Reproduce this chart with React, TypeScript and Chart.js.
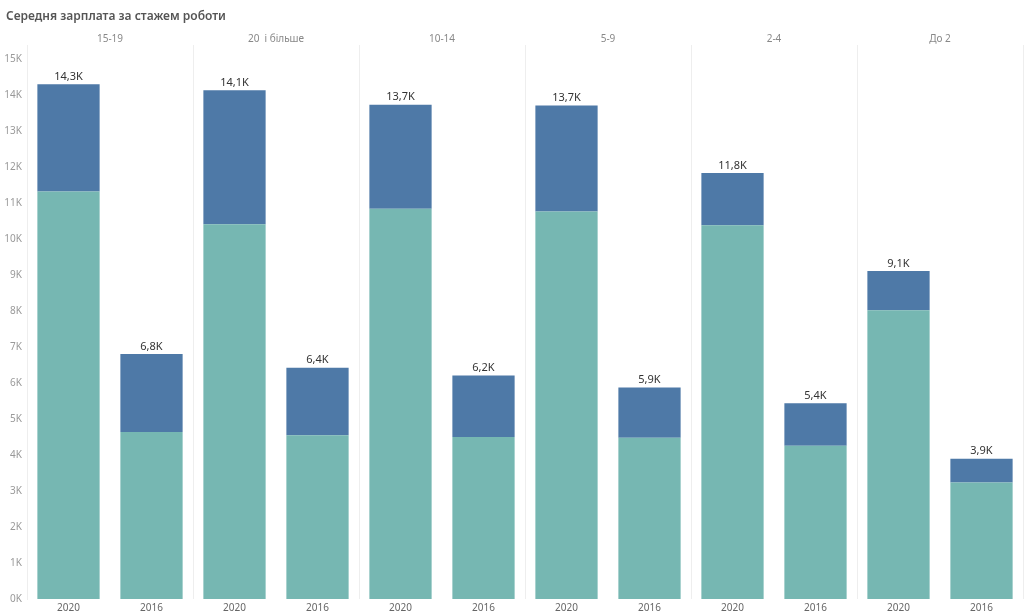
import React, { useRef, useEffect } from 'react';
import { Chart, registerables, Plugin } from 'chart.js';

Chart.register(...registerables);

// groups (top header) and years (bottom axis)
const groups = ['15-19', '20  і більше', '10-14', '5-9', '2-4', 'До 2'];
const years = ['2020', '2016'];
const categories = groups.flatMap(() => years);

// lower (teal) and upper (blue) parts of each stacked bar
const lowerPart = [11330, 4640, 10420, 4550, 10850, 4500, 10770, 4480, 10390, 4260, 8030, 3240];
const upperPart = [2980, 2170, 3720, 1880, 2890, 1710, 2950, 1400, 1450, 1180, 1090, 660];

// y axis tick values
const yTicks = [0, 1000, 2000, 3000, 4000, 5000, 6000, 7000, 8000, 9000, 10000, 11000, 12000, 13000, 14000, 15000];

const FONT = "'Noto Sans', sans-serif";
const TITLE = 'Середня зарплата за стажем роботи';

const fmtK = (v: number) => (v / 1000).toFixed(1).replace('.', ',') + 'K';

const totalsPlugin: Plugin<'bar'> = {
    id: 'totals',
    afterDatasetsDraw(chart) {
        const { ctx } = chart;
        const meta = chart.getDatasetMeta(1);
        ctx.save();
        ctx.font = `11px ${FONT}`;
        ctx.fillStyle = '#333';
        ctx.textAlign = 'center';
        ctx.textBaseline = 'bottom';
        meta.data.forEach((el: any, i: number) => {
            const total = lowerPart[i] + upperPart[i];
            ctx.fillText(fmtK(total), el.x, el.y - 2);
        });
        ctx.restore();
    },
};

const titlePlugin: Plugin<'bar'> = {
    id: 'sheetTitle',
    afterDraw(chart) {
        const { ctx } = chart;
        ctx.save();
        ctx.font = `600 12px ${FONT}`;
        ctx.fillStyle = '#555';
        ctx.textAlign = 'left';
        ctx.textBaseline = 'middle';
        ctx.fillText(TITLE, 6, 17);
        ctx.restore();
    },
};

const SalaryChart: React.FC = () => {
    const chartRef = useRef<HTMLCanvasElement>(null);
    const chartInstance = useRef<Chart | null>(null);

    useEffect(() => {
        if (!chartRef.current) return;
        if (chartInstance.current) chartInstance.current.destroy();
        const ctx = chartRef.current.getContext('2d');
        if (!ctx) return;
        chartInstance.current = new Chart(ctx, {
            type: 'bar',
            data: {
                labels: categories,
                datasets: [
                    {
                        label: 'Частина 1',
                        data: lowerPart,
                        backgroundColor: '#76B7B2',
                        borderWidth: 0,
                        categoryPercentage: 1,
                        barPercentage: 0.75,
                    },
                    {
                        label: 'Частина 2',
                        data: upperPart,
                        backgroundColor: '#4E79A7',
                        borderWidth: 0,
                        categoryPercentage: 1,
                        barPercentage: 0.75,
                    },
                ],
            },
            options: {
                animation: false,
                responsive: true,
                maintainAspectRatio: false,
                layout: { padding: { top: 28, right: 1, left: 0, bottom: 0 } },
                scales: {
                    x: {
                        stacked: true,
                        grid: { display: false, drawTicks: false },
                        border: { display: false },
                        ticks: {
                            color: '#666',
                            font: { family: FONT, size: 10 },
                            padding: 3,
                            maxRotation: 0,
                            autoSkip: false,
                        },
                        afterFit: (s: any) => { s.height = 17; },
                    },
                    x2: {
                        type: 'category',
                        position: 'top',
                        labels: groups,
                        offset: true,
                        grid: { offset: true, color: '#eeeeee', drawTicks: false },
                        border: { display: false },
                        ticks: {
                            color: '#888',
                            font: { family: FONT, size: 10 },
                            padding: 0,
                            maxRotation: 0,
                        },
                        afterFit: (s: any) => { s.height = 17; },
                    },
                    y: {
                        stacked: true,
                        min: 0,
                        max: 15400,
                        grid: { display: false, drawTicks: false },
                        border: { display: true, color: '#eeeeee' },
                        ticks: {
                            color: '#999',
                            font: { family: FONT, size: 10 },
                            padding: 5,
                            autoSkip: false,
                            callback: (v: any) => `${Number(v) / 1000}K`,
                        },
                        afterBuildTicks: (s: any) => {
                            s.ticks = yTicks.map((value) => ({ value }));
                        },
                        afterFit: (s: any) => { s.width = 27; },
                    },
                },
                plugins: {
                    legend: { display: false },
                    tooltip: { enabled: false },
                    title: { display: false },
                },
            },
            plugins: [totalsPlugin, titlePlugin],
        });
        return () => { chartInstance.current?.destroy(); chartInstance.current = null; };
    }, []);

    return (
        <div style={{ position: 'fixed', left: 0, top: 0, width: 1024, height: 616, background: '#fff' }}>
            <canvas ref={chartRef}></canvas>
        </div>
    );
};

export default function App() {
    return <SalaryChart />;
}
